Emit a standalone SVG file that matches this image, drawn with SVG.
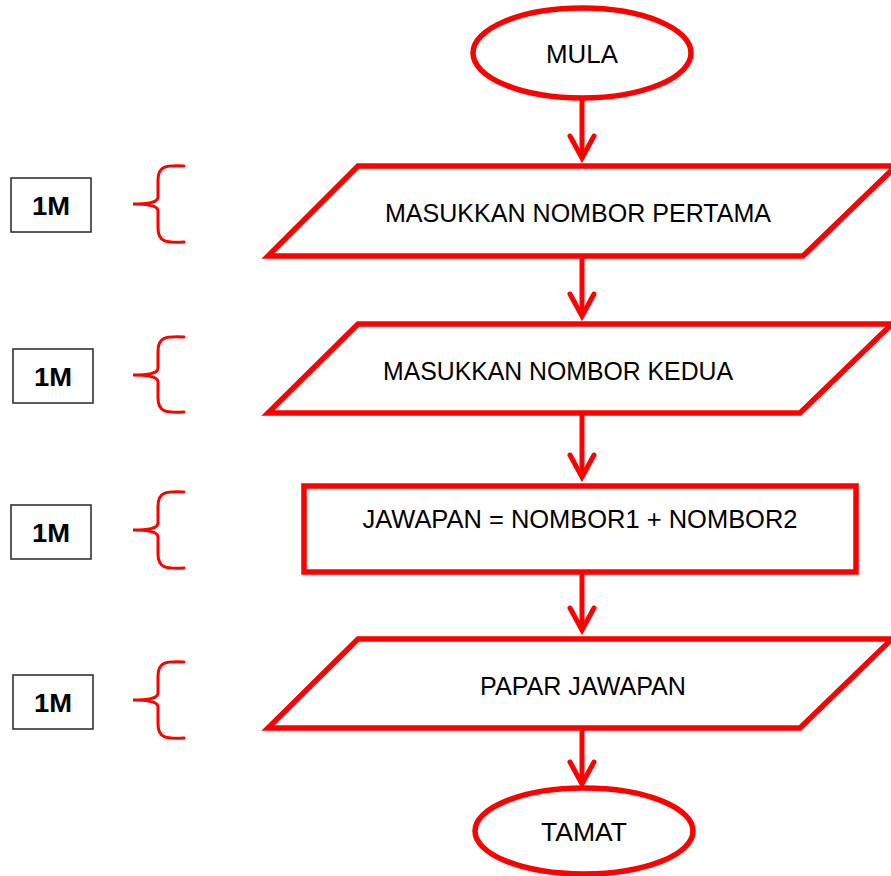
<svg xmlns="http://www.w3.org/2000/svg" width="891" height="876" viewBox="0 0 891 876">
<defs>
<style>
.shape{fill:#fff;stroke:#ff0000;stroke-width:5.5;stroke-linejoin:miter}
.conn{fill:none;stroke:#ff0000;stroke-width:5}
.brace{fill:none;stroke:#ff0000;stroke-width:3;stroke-linecap:round}
.mbox{fill:#fff;stroke:#262626;stroke-width:1.5}
.t{font-family:"Liberation Sans",Arial,sans-serif;font-size:26px;fill:#000;text-anchor:middle}
.m{font-family:"Liberation Sans",Arial,sans-serif;font-size:26px;font-weight:bold;fill:#000;text-anchor:middle}
</style>
<marker id="arr" markerUnits="userSpaceOnUse" viewBox="-30 -16 34 32" markerWidth="34" markerHeight="32" refX="0" refY="0" orient="auto" overflow="visible">
<path d="M -22 -12 L 0 0 L -22 12" fill="none" stroke="#ff0000" stroke-width="5" stroke-linecap="round" stroke-linejoin="miter"/>
</marker>
</defs>
<rect width="891" height="876" fill="#fff"/>

<g id="connectors">
<line class="conn" x1="582" y1="99" x2="582" y2="158" marker-end="url(#arr)"/>
<line class="conn" x1="582" y1="256" x2="582" y2="316" marker-end="url(#arr)"/>
<line class="conn" x1="582" y1="413" x2="582" y2="477" marker-end="url(#arr)"/>
<line class="conn" x1="582" y1="573" x2="582" y2="630" marker-end="url(#arr)"/>
<line class="conn" x1="582" y1="729" x2="582" y2="784" marker-end="url(#arr)"/>
</g>

<g id="mula">
<ellipse class="shape" cx="582" cy="53" rx="109" ry="45"/>
<text class="t" x="582" y="63" textLength="72" lengthAdjust="spacingAndGlyphs">MULA</text>
</g>

<g id="input1">
<polygon class="shape" points="358,166 896,166 803,256 268,256"/>
<text class="t" x="578" y="222" textLength="386" lengthAdjust="spacingAndGlyphs">MASUKKAN NOMBOR PERTAMA</text>
</g>

<g id="input2">
<polygon class="shape" points="358,324 892,324 800,413 268,413"/>
<text class="t" x="558" y="380" textLength="350" lengthAdjust="spacingAndGlyphs">MASUKKAN NOMBOR KEDUA</text>
</g>

<g id="process">
<rect class="shape" x="304" y="486" width="552" height="86"/>
<text class="t" x="580" y="528" textLength="435" lengthAdjust="spacingAndGlyphs">JAWAPAN = NOMBOR1 + NOMBOR2</text>
</g>

<g id="output">
<polygon class="shape" points="358,639 892,639 800,728 268,728"/>
<text class="t" x="583" y="695" textLength="206" lengthAdjust="spacingAndGlyphs">PAPAR JAWAPAN</text>
</g>

<g id="tamat">
<ellipse class="shape" cx="584" cy="831" rx="109" ry="43"/>
<text class="t" x="584" y="841" textLength="86" lengthAdjust="spacingAndGlyphs">TAMAT</text>
</g>

<g id="mark1">
<rect class="mbox" x="11" y="178" width="80" height="54"/>
<text class="m" x="51" y="215" textLength="38" lengthAdjust="spacingAndGlyphs">1M</text>
<path class="brace" d="M184,166 C166,165 158,166 158,180 L158,197 C158,202 150,204 133,204 C150,204 158,206 158,211 L158,228 C158,242 166,243 184,242"/>
</g>

<g id="mark2">
<rect class="mbox" x="13" y="349" width="80" height="54"/>
<text class="m" x="53" y="386" textLength="38" lengthAdjust="spacingAndGlyphs">1M</text>
<path class="brace" d="M184,337 C166,336 158,337 158,351 L158,368 C158,373 150,375 133,375 C150,375 158,377 158,382 L158,398 C158,412 166,413 184,412"/>
</g>

<g id="mark3">
<rect class="mbox" x="11" y="505" width="80" height="54"/>
<text class="m" x="51" y="542" textLength="38" lengthAdjust="spacingAndGlyphs">1M</text>
<path class="brace" d="M184,492 C166,491 158,492 158,506 L158,523 C158,528 150,530 133,530 C150,530 158,532 158,537 L158,554 C158,568 166,569 184,568"/>
</g>

<g id="mark4">
<rect class="mbox" x="13" y="675" width="80" height="54"/>
<text class="m" x="53" y="712" textLength="38" lengthAdjust="spacingAndGlyphs">1M</text>
<path class="brace" d="M184,662 C166,661 158,662 158,676 L158,693 C158,698 150,700 133,700 C150,700 158,702 158,707 L158,724 C158,738 166,739 184,738"/>
</g>
</svg>
